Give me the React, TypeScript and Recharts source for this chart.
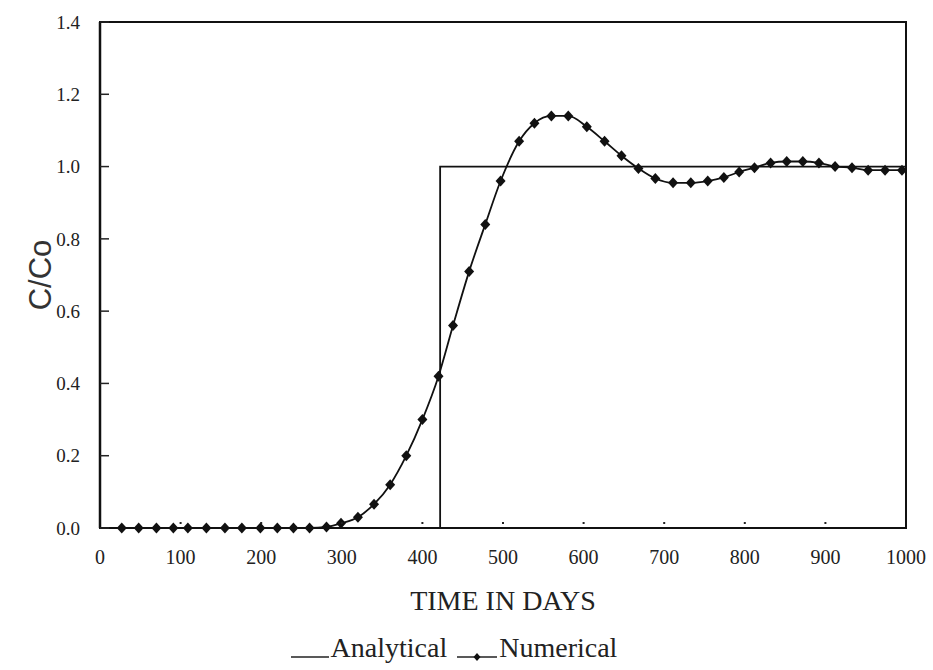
import React from "react";
import {
  LineChart,
  Line,
  XAxis,
  YAxis,
  Legend,
  ReferenceArea,
} from "recharts";

// days for each numerical marker
const numDays = [
  27, 48, 70, 91, 109, 132, 155, 176, 199, 220, 240, 260, 281, 299, 320, 340,
  360, 380, 400, 420, 438, 458, 478, 497, 520, 539, 560, 581, 604, 626, 647,
  668, 689, 711, 733, 754, 774, 793, 812, 832, 852, 872, 892, 912, 933, 953,
  974, 995,
];
const numValues = [
  0, 0, 0, 0, 0, 0, 0, 0, 0, 0, 0, 0, 0.003, 0.013, 0.03, 0.066, 0.12, 0.2,
  0.3, 0.42, 0.56, 0.71, 0.84, 0.96, 1.07, 1.12, 1.14, 1.14, 1.11, 1.07, 1.03,
  0.995, 0.967, 0.955, 0.955, 0.96, 0.97, 0.985, 0.997, 1.01, 1.014, 1.014,
  1.01, 1.0, 0.997, 0.99, 0.99, 0.99,
];

// analytical step solution
const anaDays = [0, 422, 422, 1000];
const anaValues = [0, 0, 1, 1];

const xTicks = [0, 100, 200, 300, 400, 500, 600, 700, 800, 900, 1000];
const yTicks = [0, 0.2, 0.4, 0.6, 0.8, 1.0, 1.2, 1.4];

const numerical = numDays.map((d, i) => ({ day: d, c: numValues[i] }));
const analytical = anaDays.map((d, i) => ({ day: d, c: anaValues[i] }));

const serif = "'Liberation Serif', 'Times New Roman', serif";

function Diamond(props: any) {
  const { cx, cy, index } = props;
  if (cx == null || cy == null) return <g key={index} />;
  return (
    <polygon
      key={index}
      points={`${cx},${cy - 5.5} ${cx + 5},${cy} ${cx},${cy + 5.5} ${cx - 5},${cy}`}
      fill="#111"
    />
  );
}

function XTick(props: any) {
  const { x, y, payload } = props;
  const axisY = y - 22;
  return (
    <g>
      {payload.value > 0 && payload.value < 1000 && (
        <line x1={x} x2={x} y1={axisY - 4} y2={axisY - 6} stroke="#222" strokeWidth={2} />
      )}
      <text
        x={x}
        y={y}
        dy="0.71em"
        textAnchor="middle"
        fontFamily={serif}
        fontSize={20}
        fill="#222"
      >
        {payload.value}
      </text>
    </g>
  );
}

function YTick(props: any) {
  const { x, y, payload } = props;
  const axisX = x + 20;
  return (
    <g>
      <line x1={axisX} x2={axisX + 9} y1={y} y2={y} stroke="#222" strokeWidth={1.5} />
      <text
        x={x}
        y={y}
        dy="0.355em"
        textAnchor="end"
        fontFamily={serif}
        fontSize={19}
        fill="#222"
      >
        {payload.value.toFixed(1)}
      </text>
    </g>
  );
}

function LegendContent() {
  const txt: React.CSSProperties = {
    fontFamily: serif,
    fontSize: 28,
    color: "#222",
    lineHeight: "32px",
  };
  return (
    <div
      style={{
        display: "flex",
        justifyContent: "center",
        alignItems: "flex-end",
        height: 32,
      }}
    >
      <svg width={42} height={32}>
        <line x1={2} x2={40} y1={25} y2={25} stroke="#222" strokeWidth={1.5} />
      </svg>
      <span style={txt}>Analytical</span>
      <svg width={46} height={32} style={{ marginLeft: 6 }}>
        <line x1={4} x2={44} y1={25} y2={25} stroke="#222" strokeWidth={1.5} />
        <polygon points="24,21 27.5,25 24,29 20.5,25" fill="#111" />
      </svg>
      <span style={txt}>Numerical</span>
    </div>
  );
}

export default function App() {
  return (
    <div style={{ position: "absolute", left: 0, top: 0, background: "#fff" }}>
      <LineChart
        width={933}
        height={670}
        margin={{ top: 22, right: 27, left: 0, bottom: 6 }}
      >
        <XAxis
          dataKey="day"
          type="number"
          domain={[0, 1000]}
          ticks={xTicks}
          allowDuplicatedCategory={false}
          tickSize={0}
          tickMargin={22}
          tick={<XTick />}
          axisLine={{ stroke: "#111", strokeWidth: 2 }}
          height={104}
          label={{
            value: "TIME IN DAYS",
            position: "insideBottom",
            offset: 22,
            fontFamily: serif,
            fontSize: 28,
            fill: "#222",
          }}
        />
        <YAxis
          type="number"
          domain={[0, 1.4]}
          ticks={yTicks}
          tickSize={0}
          tickMargin={20}
          tick={<YTick />}
          width={100}
          axisLine={{ stroke: "#111", strokeWidth: 2.5 }}
          label={{
            content: (p: any) => {
              const vb = p.viewBox;
              const cx = vb.x + 40;
              const cy = vb.y + vb.height / 2;
              return (
                <text
                  x={cx}
                  y={cy}
                  transform={`rotate(-90 ${cx} ${cy})`}
                  textAnchor="middle"
                  dominantBaseline="central"
                  fontFamily="'Liberation Sans', Arial, sans-serif"
                  fontSize={31}
                  fill="#333"
                >
                  C/Co
                </text>
              );
            },
          }}
        />
        <ReferenceArea
          x1={0}
          x2={1000}
          y1={0}
          y2={1.4}
          fill="none"
          fillOpacity={0}
          stroke="#111"
          strokeWidth={2}
          ifOverflow="visible"
        />
        <Line
          data={analytical}
          dataKey="c"
          type="linear"
          stroke="#111"
          strokeWidth={1.8}
          dot={false}
          isAnimationActive={false}
          name="Analytical"
        />
        <Line
          data={numerical}
          dataKey="c"
          type="monotone"
          stroke="#111"
          strokeWidth={1.8}
          dot={<Diamond />}
          isAnimationActive={false}
          name="Numerical"
        />
        <Legend
          verticalAlign="bottom"
          align="center"
          height={32}
          content={<LegendContent />}
        />
      </LineChart>
    </div>
  );
}
